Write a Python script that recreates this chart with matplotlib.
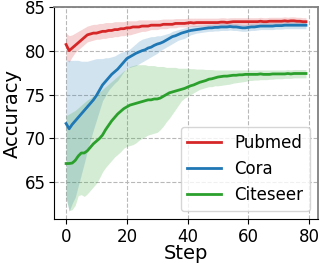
import matplotlib
matplotlib.use('Agg')
import matplotlib.pyplot as plt
import numpy as np

# step index 0..79
steps = np.arange(80)

pubmed_mean = [80.7, 80.0, 80.3, 80.6, 80.9, 81.2, 81.5, 81.8, 81.9, 82.0,
               82.0, 82.1, 82.2, 82.2, 82.3, 82.3, 82.4, 82.4, 82.5, 82.5,
               82.6, 82.6, 82.7, 82.7, 82.7, 82.8, 82.8, 82.8, 82.9, 82.9,
               82.9, 82.9, 83.0, 83.0, 83.0, 83.0, 83.1, 83.1, 83.1, 83.1,
               83.15, 83.2, 83.15, 83.2, 83.2, 83.2, 83.2, 83.2, 83.2, 83.2,
               83.2, 83.25, 83.25, 83.2, 83.25, 83.3, 83.3, 83.3, 83.3, 83.3,
               83.3, 83.3, 83.3, 83.3, 83.35, 83.3, 83.3, 83.35, 83.35, 83.35,
               83.35, 83.35, 83.4, 83.35, 83.4, 83.4, 83.35, 83.35, 83.3, 83.3]
pubmed_lo = [79.0, 78.7, 79.3, 79.8, 80.1, 80.4, 80.7, 81.0, 81.1, 81.2,
             81.3, 81.3, 81.4, 81.4, 81.5, 81.5, 81.6, 81.6, 81.7, 81.7,
             81.8, 81.8, 81.9, 82.0, 82.1, 82.2, 82.2, 82.3, 82.4, 82.4,
             82.4, 82.5, 82.5, 82.5, 82.6, 82.6, 82.6, 82.7, 82.7, 82.7,
             82.7, 82.75, 82.75, 82.75, 82.8, 82.8, 82.8, 82.8, 82.8, 82.8,
             82.8, 82.85, 82.85, 82.8, 82.85, 82.85, 82.85, 82.85, 82.85, 82.85,
             82.85, 82.85, 82.85, 82.85, 82.9, 82.85, 82.85, 82.9, 82.9, 82.9,
             82.9, 82.9, 82.95, 82.9, 82.95, 82.95, 82.9, 82.9, 82.85, 82.85]
pubmed_hi = [82.0, 81.7, 81.8, 82.0, 82.2, 82.4, 82.6, 82.8, 82.9, 83.0,
             83.0, 83.1, 83.1, 83.2, 83.2, 83.2, 83.3, 83.3, 83.3, 83.3,
             83.4, 83.4, 83.4, 83.4, 83.5, 83.5, 83.5, 83.5, 83.5, 83.5,
             83.5, 83.55, 83.6, 83.6, 83.6, 83.6, 83.65, 83.65, 83.65, 83.65,
             83.7, 83.7, 83.7, 83.7, 83.7, 83.7, 83.7, 83.7, 83.7, 83.7,
             83.7, 83.75, 83.75, 83.7, 83.75, 83.75, 83.75, 83.75, 83.75, 83.75,
             83.75, 83.75, 83.75, 83.75, 83.8, 83.75, 83.75, 83.8, 83.8, 83.8,
             83.8, 83.8, 83.85, 83.8, 83.85, 83.85, 83.8, 83.8, 83.75, 83.75]

cora_mean = [71.7, 71.1, 71.6, 72.0, 72.4, 72.8, 73.2, 73.6, 74.0, 74.4,
             74.9, 75.5, 76.1, 76.5, 76.9, 77.3, 77.6, 77.9, 78.3, 78.7,
             79.1, 79.3, 79.5, 79.7, 79.85, 80.0, 80.1, 80.3, 80.4, 80.6,
             80.75, 80.85, 81.0, 81.2, 81.4, 81.6, 81.7, 81.85, 82.0, 82.1,
             82.2, 82.3, 82.35, 82.4, 82.45, 82.5, 82.55, 82.6, 82.6, 82.65,
             82.65, 82.7, 82.7, 82.7, 82.75, 82.7, 82.7, 82.65, 82.6, 82.6,
             82.65, 82.7, 82.7, 82.75, 82.8, 82.8, 82.8, 82.8, 82.8, 82.85,
             82.85, 82.85, 82.9, 82.9, 82.9, 82.9, 82.9, 82.9, 82.9, 82.9]
cora_lo = [63.3, 61.7, 62.6, 63.3, 64.6, 65.9, 67.2, 68.6, 69.8, 71.0,
           72.1, 73.2, 74.3, 74.9, 75.5, 75.9, 76.3, 76.6, 77.1, 77.6,
           78.0, 78.1, 78.2, 78.3, 78.5, 78.7, 78.9, 79.1, 79.3, 79.5,
           79.7, 80.0, 80.2, 80.4, 80.6, 80.8, 81.0, 81.2, 81.3, 81.4,
           81.6, 81.8, 81.9, 82.0, 82.05, 82.1, 82.15, 82.2, 82.2, 82.25,
           82.25, 82.3, 82.3, 82.3, 82.35, 82.3, 82.3, 82.25, 82.2, 82.2,
           82.25, 82.3, 82.3, 82.35, 82.4, 82.4, 82.4, 82.4, 82.4, 82.45,
           82.45, 82.45, 82.5, 82.5, 82.5, 82.5, 82.5, 82.5, 82.5, 82.5]
cora_hi = [78.9, 78.9, 78.9, 78.9, 78.9, 78.8, 78.8, 78.8, 78.9, 79.0,
           79.1, 79.1, 79.1, 79.2, 79.2, 79.3, 79.4, 79.6, 79.8, 79.9,
           80.0, 80.2, 80.5, 80.8, 81.1, 81.3, 81.4, 81.5, 81.6, 81.6,
           81.7, 81.7, 81.8, 81.9, 82.0, 82.2, 82.3, 82.4, 82.5, 82.6,
           82.7, 82.8, 82.85, 82.85, 82.9, 82.9, 82.95, 83.0, 83.0, 83.05,
           83.05, 83.1, 83.1, 83.1, 83.15, 83.1, 83.1, 83.05, 83.0, 83.0,
           83.05, 83.1, 83.1, 83.15, 83.2, 83.2, 83.2, 83.2, 83.2, 83.25,
           83.25, 83.25, 83.3, 83.3, 83.3, 83.3, 83.3, 83.3, 83.3, 83.3]

citeseer_mean = [67.15, 67.15, 67.2, 67.5, 68.0, 68.35, 68.35, 68.6, 69.0, 69.4,
                 69.7, 70.0, 70.4, 71.0, 71.5, 72.0, 72.4, 72.8, 73.1, 73.4,
                 73.6, 73.8, 73.9, 74.0, 74.1, 74.2, 74.3, 74.4, 74.4, 74.5,
                 74.5, 74.6, 74.8, 75.0, 75.2, 75.3, 75.4, 75.5, 75.6, 75.7,
                 75.85, 76.0, 76.1, 76.25, 76.4, 76.5, 76.6, 76.75, 76.8, 76.9,
                 77.0, 77.05, 77.1, 77.1, 77.15, 77.2, 77.2, 77.25, 77.25, 77.3,
                 77.3, 77.3, 77.3, 77.3, 77.35, 77.3, 77.3, 77.3, 77.35, 77.35,
                 77.35, 77.35, 77.35, 77.4, 77.35, 77.4, 77.4, 77.4, 77.4, 77.4]
citeseer_lo = [63.2, 61.8, 61.9, 62.4, 63.5, 63.6, 63.4, 63.7, 64.1, 64.5,
               64.9, 65.5, 66.2, 66.7, 67.1, 67.5, 67.9, 68.2, 68.5, 68.9,
               69.1, 69.2, 69.3, 69.5, 69.8, 70.0, 70.2, 70.4, 70.5, 70.6,
               70.7, 71.0, 71.4, 71.9, 72.3, 72.8, 73.3, 73.8, 74.3, 74.6,
               74.8, 75.0, 75.2, 75.4, 75.6, 75.7, 75.8, 75.9, 75.9, 76.0,
               76.0, 76.05, 76.1, 76.15, 76.2, 76.3, 76.35, 76.4, 76.45, 76.5,
               76.6, 76.6, 76.65, 76.65, 76.7, 76.7, 76.7, 76.75, 76.75, 76.8,
               76.8, 76.8, 76.85, 76.85, 76.85, 76.9, 76.9, 76.9, 76.9, 76.9]
citeseer_hi = [72.6, 72.8, 73.0, 73.2, 73.5, 73.8, 74.1, 74.4, 74.6, 74.9,
               75.1, 75.3, 75.6, 75.9, 76.2, 76.5, 76.8, 77.1, 77.4, 77.7,
               77.9, 78.2, 78.3, 78.4, 78.4, 78.4, 78.4, 78.3, 78.3, 78.3,
               78.2, 78.2, 78.2, 78.1, 78.1, 78.1, 78.1, 78.0, 78.0, 78.0,
               78.0, 77.95, 77.95, 77.9, 77.9, 77.9, 77.85, 77.85, 77.85, 77.8,
               77.8, 77.8, 77.8, 77.8, 77.8, 77.8, 77.8, 77.8, 77.8, 77.8,
               77.8, 77.8, 77.8, 77.8, 77.8, 77.8, 77.8, 77.8, 77.8, 77.8,
               77.8, 77.8, 77.8, 77.85, 77.8, 77.85, 77.85, 77.85, 77.85, 77.85]

series = [
    ('Pubmed', pubmed_mean, pubmed_lo, pubmed_hi, '#d62728'),
    ('Cora', cora_mean, cora_lo, cora_hi, '#1f77b4'),
    ('Citeseer', citeseer_mean, citeseer_lo, citeseer_hi, '#2ca02c'),
]

fig = plt.figure(figsize=(3.22, 2.65), dpi=100)
ax = fig.add_axes([0.168, 0.1725, 0.8196, 0.802])

for name, m, lo, hi, c in series:
    ax.fill_between(steps, lo, hi, color=c, alpha=0.2, linewidth=0)
    ax.plot(steps, m, color=c, lw=2, label=name)

ax.set_ylim(60.8, 85)
ax.set_xticks([0, 20, 40, 60, 80])
ax.set_yticks([65, 70, 75, 80, 85])
ax.tick_params(labelsize=12, pad=2.5)
ax.set_xlabel('Step', fontsize=14, labelpad=-1)
ax.set_ylabel('Accuracy', fontsize=14, labelpad=2)
ax.grid(True, linestyle='--', color='#b8b8b8', linewidth=0.8)
ax.set_axisbelow(True)
for s in ['top', 'right']:
    ax.spines[s].set_color('#808080')
    ax.spines[s].set_linewidth(1.3)
ax.legend(loc='lower right', fontsize=12)

fig.savefig('out.png', dpi=100)
